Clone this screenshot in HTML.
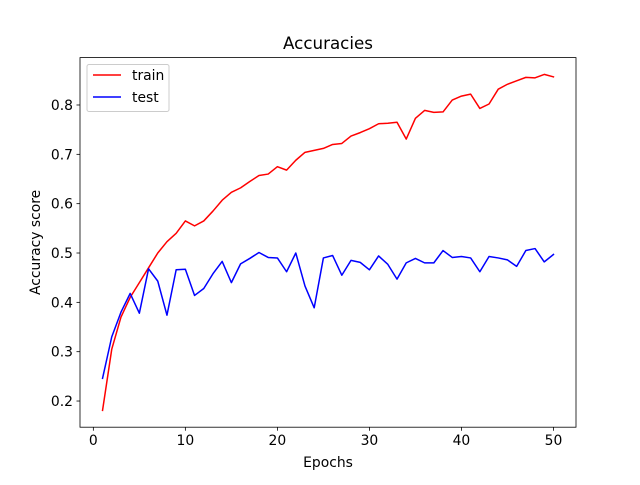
<!DOCTYPE html>
<html><head><meta charset="utf-8"><style>
html,body{margin:0;padding:0;background:#fff;}
svg text{font-family:"DejaVu Sans","Liberation Sans",sans-serif;fill:#000;}
</style></head><body>
<svg id="chart" width="640" height="480" xmlns="http://www.w3.org/2000/svg">
<rect width="640" height="480" fill="#fff"/>
<g id="plot"></g>
</svg>
<script>
const epochs = Array.from({length:50},(_,i)=>i+1);
const trainAcc = [0.181,0.305,0.37,0.41,0.44,0.47,0.50,0.523,0.54,0.565,0.555,0.565,0.585,0.607,0.623,0.632,0.645,0.657,0.66,0.675,0.668,0.688,0.704,0.708,0.712,0.72,0.722,0.737,0.744,0.752,0.762,0.763,0.765,0.731,0.773,0.789,0.785,0.786,0.81,0.818,0.822,0.793,0.802,0.832,0.842,0.849,0.856,0.855,0.862,0.857];
const testAcc = [0.246,0.33,0.38,0.418,0.378,0.468,0.443,0.374,0.466,0.467,0.414,0.428,0.458,0.483,0.44,0.478,0.489,0.501,0.491,0.49,0.462,0.5,0.433,0.389,0.49,0.495,0.455,0.485,0.481,0.466,0.494,0.477,0.447,0.48,0.489,0.48,0.48,0.505,0.491,0.493,0.49,0.462,0.493,0.49,0.486,0.473,0.505,0.509,0.482,0.497];
const xTicks = [0,10,20,30,40,50];
const yTicks = [0.2,0.3,0.4,0.5,0.6,0.7,0.8];

const L=80,R=576,T=57.6,B=427.2;
const all=trainAcc.concat(testAcc);
const ymin=Math.min(...all),ymax=Math.max(...all),yr=ymax-ymin;
const y0=ymin-0.05*yr,y1=ymax+0.05*yr;
const xmin=Math.min(...epochs),xmax=Math.max(...epochs),xr=xmax-xmin;
const x0=xmin-0.05*xr,x1=xmax+0.05*xr;
const sx=v=>L+(v-x0)/(x1-x0)*(R-L);
const sy=v=>B-(v-y0)/(y1-y0)*(B-T);
const g=document.getElementById('plot');
const NS='http://www.w3.org/2000/svg';
const FS=13.9;
function el(tag,attrs,parent){const e=document.createElementNS(NS,tag);for(const k in attrs)e.setAttribute(k,attrs[k]);(parent||g).appendChild(e);return e;}

xTicks.forEach(t=>{
  const x=sx(t);
  const tk=el('line',{x1:x,x2:x,y1:B,y2:B+3.5,stroke:'#000','stroke-width':0.8});
  
  
  const tx=el('text',{x:x,y:B+18,'font-size':FS,'text-anchor':'middle'});
  tx.textContent=t;
  
  
});
yTicks.forEach(t=>{
  const y=sy(t);
  const tk=el('line',{x1:L-3.5,x2:L,y1:y,y2:y,stroke:'#000','stroke-width':0.8});
  
  
  const tx=el('text',{x:L-7,y:y+5,'font-size':FS,'text-anchor':'end'});
  tx.textContent=t.toFixed(1);
  
  
});

function series(vals,color,name){
  const p=el('polyline',{points:vals.map((v,i)=>sx(epochs[i])+','+sy(v)).join(' '),fill:'none',stroke:color,'stroke-width':1.5,'stroke-linejoin':'round','stroke-linecap':'square'});
  
  
}
series(trainAcc,'#ff0000','train-line');
series(testAcc,'#0000ff','test-line');

const frame=el('rect',{x:L,y:T,width:R-L,height:B-T,fill:'none',stroke:'#000','stroke-width':0.8});



const title=el('text',{x:(L+R)/2,y:49,'font-size':16.7,'text-anchor':'middle'});
title.textContent='Accuracies';


const xl=el('text',{x:(L+R)/2,y:467,'font-size':FS,'text-anchor':'middle'});
xl.textContent='Epochs';


const yl=el('text',{x:0,y:0,'font-size':FS,'text-anchor':'middle',transform:'translate(40,'+((T+B)/2)+') rotate(-90)'});
yl.textContent='Accuracy score';



const lg=el('g',{});


el('rect',{x:87,y:64.5,width:82,height:47,rx:2,fill:'#fff','fill-opacity':0.8,stroke:'#ccc','stroke-width':1},lg);
[['train','#ff0000',75],['test','#0000ff',97]].forEach(([n,c,y])=>{
  const ln=el('line',{x1:93,x2:121,y1:y,y2:y,stroke:c,'stroke-width':1.5},lg);
  
  
  const t=el('text',{x:132,y:y+5,'font-size':FS},lg);
  t.textContent=n;
  
  
});
</script>
</body></html>
